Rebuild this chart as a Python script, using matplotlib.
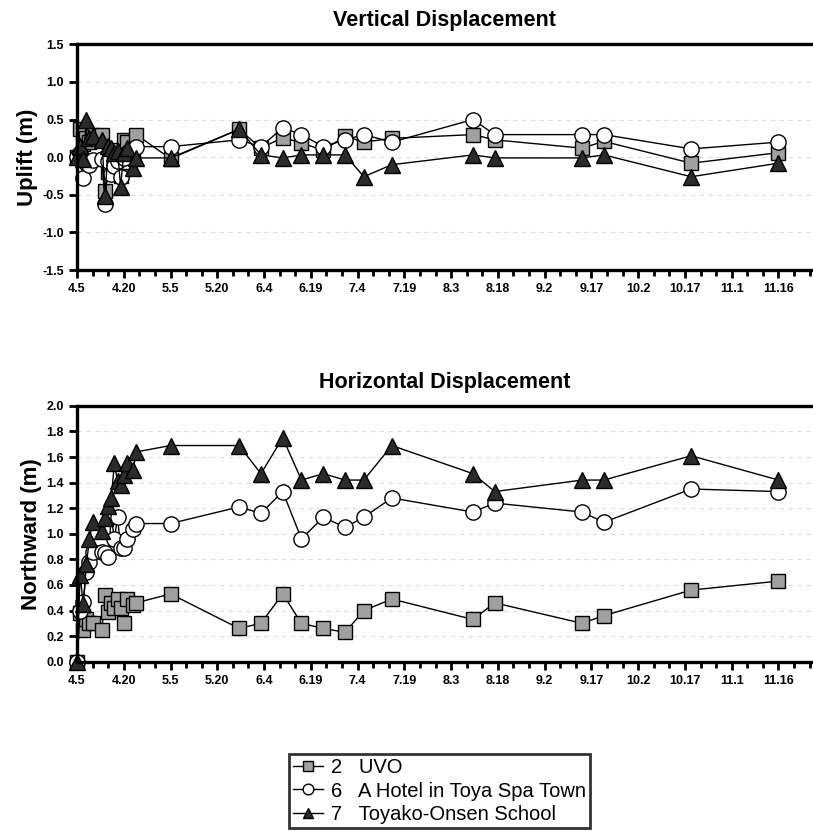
import matplotlib
matplotlib.use('Agg')
import matplotlib.pyplot as plt
import numpy as np
import pandas as pd
from matplotlib.ticker import MultipleLocator

plt.rcParams['font.family'] = ['Liberation Sans', 'DejaVu Sans']

# survey dates (2000)
dates = ['04-05', '04-06', '04-07', '04-08', '04-09', '04-10', '04-13', '04-14',
         '04-15', '04-16', '04-17', '04-18', '04-19', '04-20', '04-21', '04-23',
         '04-24', '05-05', '05-27', '06-03', '06-10', '06-16', '06-23', '06-30',
         '07-06', '07-15', '08-10', '08-17', '09-14', '09-21', '10-19', '11-16']

tick_labels = ['4.5', '4.20', '5.5', '5.20', '6.4', '6.19', '7.4', '7.19', '8.3',
               '8.18', '9.2', '9.17', '10.2', '10.17', '11.1', '11.16']

station_names = ['2   UVO', '6   A Hotel in Toya Spa Town', '7   Toyako-Onsen School']

# uplift (m)
uplift_uvo = [0.00, 0.37, 0.18, 0.25, 0.20, 0.30, 0.30, -0.45, -0.20, 0.05, 0.10,
              0.00, -0.25, 0.23, 0.20, 0.05, 0.30, -0.02, 0.37, 0.12, 0.26, 0.19,
              0.09, 0.28, 0.20, 0.25, 0.30, 0.23, 0.12, 0.21, -0.08, 0.06]
uplift_hotel = [0.00, 0.05, -0.28, -0.08, -0.10, -0.04, -0.03, -0.62, -0.05, -0.23,
                -0.12, -0.05, -0.27, -0.01, 0.05, 0.10, 0.14, 0.14, 0.23, 0.14, 0.39,
                0.30, 0.14, 0.23, 0.30, 0.20, 0.50, 0.30, 0.30, 0.30, 0.11, 0.20]
uplift_school = [0.00, 0.15, -0.03, 0.50, 0.25, 0.28, 0.23, -0.52, 0.15, 0.12, 0.05,
                 0.08, -0.39, 0.05, 0.12, -0.15, -0.01, -0.01, 0.37, 0.03, -0.01,
                 0.03, 0.03, 0.03, -0.26, -0.10, 0.03, -0.01, -0.01, 0.03, -0.26, -0.08]

# northward displacement (m)
north_uvo = [0.00, 0.38, 0.25, 0.33, 0.30, 0.30, 0.25, 0.52, 0.39, 0.46, 0.42,
             0.49, 0.42, 0.30, 0.49, 0.44, 0.46, 0.53, 0.26, 0.30, 0.53, 0.30,
             0.26, 0.23, 0.40, 0.49, 0.33, 0.46, 0.30, 0.36, 0.56, 0.63]
north_hotel = [0.00, 0.40, 0.47, 0.70, 0.78, 0.86, 0.86, 0.85, 0.82, 1.13, 0.96,
               1.13, 0.89, 0.89, 0.96, 1.04, 1.08, 1.08, 1.21, 1.16, 1.33, 0.96,
               1.13, 1.05, 1.13, 1.28, 1.17, 1.24, 1.17, 1.09, 1.35, 1.33]
north_school = [0.00, 0.68, 0.45, 0.76, 0.96, 1.09, 1.02, 1.12, 1.22, 1.28, 1.55,
                1.41, 1.38, 1.46, 1.55, 1.50, 1.64, 1.69, 1.69, 1.47, 1.75, 1.42,
                1.47, 1.42, 1.42, 1.69, 1.47, 1.33, 1.42, 1.42, 1.61, 1.42]

start = pd.Timestamp('2000-04-05')
days = np.array([(pd.Timestamp('2000-' + d) - start).days for d in dates])

styles = [dict(marker='s', markerfacecolor='#a0a0a0', markersize=10),
          dict(marker='o', markerfacecolor='white', markersize=11),
          dict(marker='^', markerfacecolor='#2b2b2b', markersize=11)]


def setup_axis(ax, ylim, ystep, title, ylabel):
    ax.set_xlim(0, 236)
    ax.set_ylim(*ylim)
    ax.xaxis.set_minor_locator(MultipleLocator(5))
    ax.set_xticks(np.arange(0, 226, 15))
    ax.set_xticklabels(tick_labels, fontsize=9, fontweight='bold')
    yt = np.arange(ylim[0], ylim[1] + 1e-9, ystep)
    ax.set_yticks(yt)
    ax.set_yticklabels(['%.1f' % v for v in yt], fontsize=9, fontweight='bold')
    ax.tick_params(axis='both', which='major', length=6, width=2, direction='out')
    ax.tick_params(axis='x', which='minor', length=4, width=2, direction='out')
    ax.spines['right'].set_visible(False)
    for s in ['left', 'top', 'bottom']:
        ax.spines[s].set_linewidth(2.4)
    ax.grid(axis='y', color='#dddddd', linestyle=(0, (4, 4)), linewidth=0.8)
    ax.set_axisbelow(True)
    ax.set_title(title, fontsize=15.5, fontweight='bold', pad=13)
    ax.set_ylabel(ylabel, fontsize=16, fontweight='bold', labelpad=3)


fig = plt.figure(figsize=(8.13, 8.36), dpi=100)
ax1 = fig.add_axes([0.0947, 0.677, 0.905, 0.270])
ax2 = fig.add_axes([0.0947, 0.2085, 0.905, 0.306])

handles = []
for vals, st in zip([uplift_uvo, uplift_hotel, uplift_school], styles):
    ax1.plot(days, vals, color='black', linewidth=1, markeredgecolor='black',
             markeredgewidth=1, clip_on=False, **st)
for vals, st, name in zip([north_uvo, north_hotel, north_school], styles, station_names):
    h, = ax2.plot(days, vals, color='black', linewidth=1, markeredgecolor='black',
                  markeredgewidth=1, clip_on=False, label=name, **st)
    handles.append(h)

setup_axis(ax1, (-1.5, 1.5), 0.5, 'Vertical Displacement', 'Uplift (m)')
setup_axis(ax2, (0.0, 2.0), 0.2, 'Horizontal Displacement', 'Northward (m)')

leg = fig.legend(handles=handles, loc='upper left', bbox_to_anchor=(0.355, 0.098),
                 fontsize=14.5, frameon=True, fancybox=False, edgecolor='black',
                 handlelength=1.5, handletextpad=0.4, borderpad=0.2,
                 labelspacing=0.22, borderaxespad=0, markerscale=0.7)
leg.get_frame().set_linewidth(2)

fig.savefig('out.png', dpi=100)
